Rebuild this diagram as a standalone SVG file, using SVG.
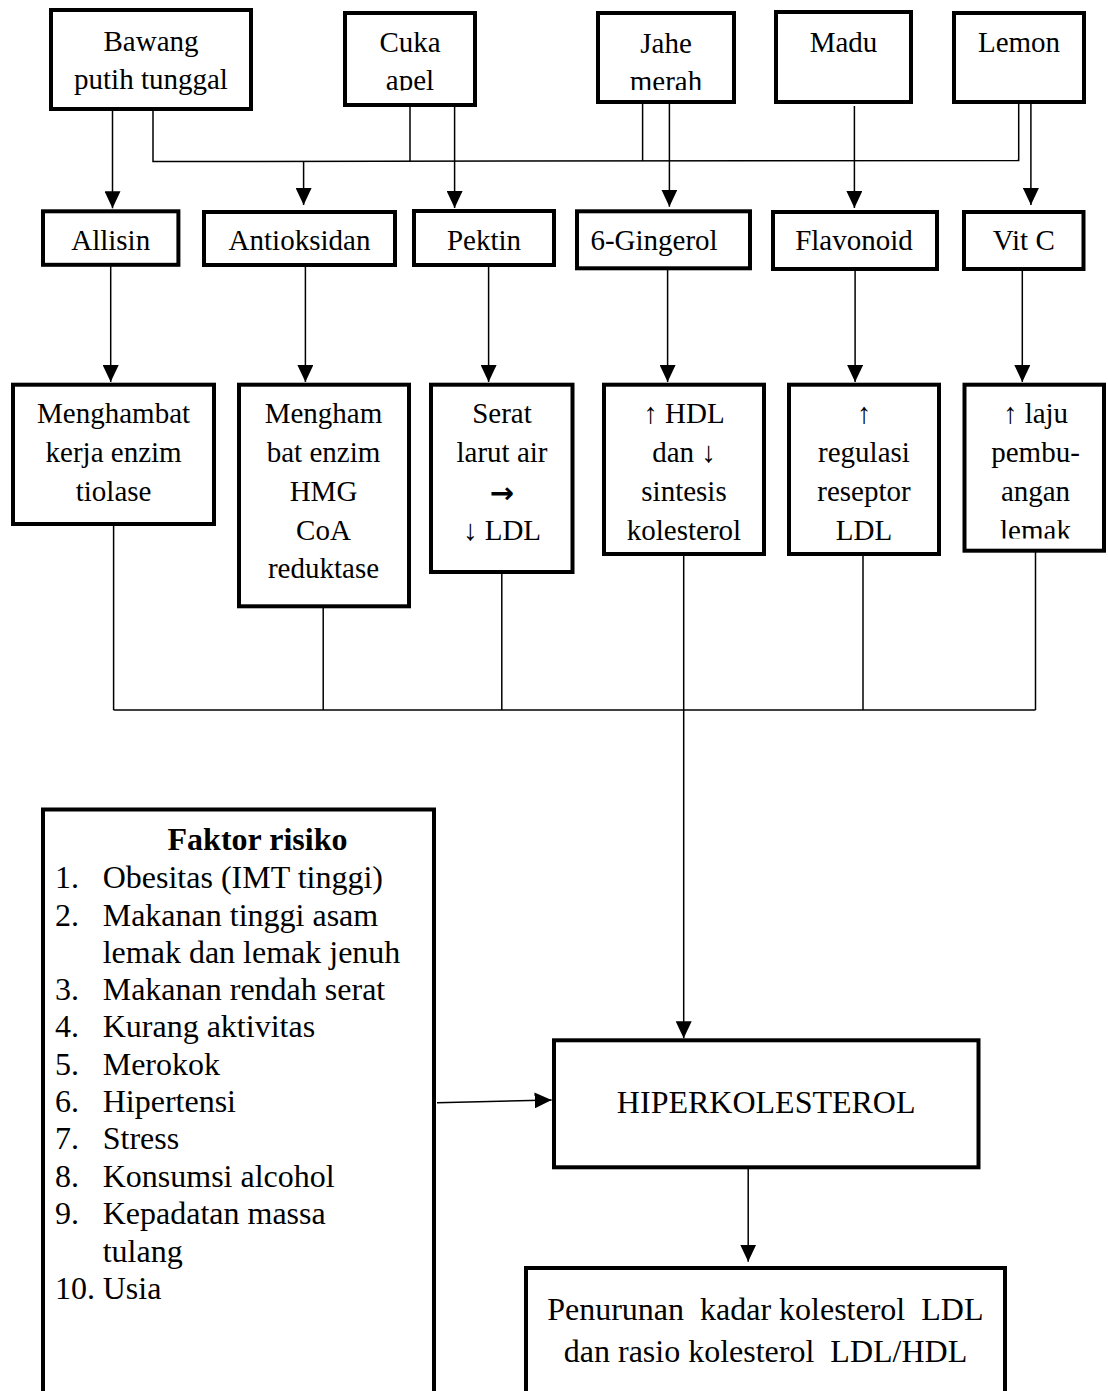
<svg xmlns="http://www.w3.org/2000/svg" width="1108" height="1391" viewBox="0 0 1108 1391">
<style>
.box{fill:#fff;stroke:#000;stroke-width:4}
.t{font-family:"Liberation Serif","Times New Roman",serif;font-size:29px;fill:#000;text-anchor:middle}
.b{font-size:32px}
.l{font-family:"Liberation Serif","Times New Roman",serif;font-size:32px;fill:#000}
.c{fill:none;stroke:#000;stroke-width:1.5}
.a{marker-end:url(#arr)}
.sym{font-family:"DejaVu Sans",sans-serif;font-size:29px;font-weight:bold}
</style>
<defs>
<marker id="arr" markerUnits="userSpaceOnUse" viewBox="0 0 17 16" refX="17" refY="8" markerWidth="17" markerHeight="16" orient="auto">
<path d="M0,0 L17,8 L0,16 z" fill="#000"/>
</marker>
<clipPath id="clipApel"><rect x="345" y="13" width="130" height="77.5"/></clipPath>
<clipPath id="clipMerah"><rect x="598" y="13" width="136" height="77"/></clipPath>
<clipPath id="clipLemak"><rect x="964" y="385" width="140" height="153.5"/></clipPath>
</defs>
<rect width="1108" height="1391" fill="#fff"/>

<g id="connectors">
<line class="c a" x1="112.5" y1="110" x2="112.5" y2="208.3"/>
<polyline class="c" points="153,110 153,161.5 1018.7,160.5 1018.7,103"/>
<line class="c a" x1="303.6" y1="161" x2="303.6" y2="205"/>
<line class="c" x1="410" y1="106" x2="410" y2="161"/>
<line class="c a" x1="454.6" y1="106" x2="454.6" y2="208"/>
<line class="c" x1="642.6" y1="103" x2="642.6" y2="161"/>
<line class="c a" x1="669.4" y1="103" x2="669.4" y2="206.7"/>
<line class="c a" x1="854.4" y1="106" x2="854.4" y2="208"/>
<line class="c a" x1="1030.9" y1="103" x2="1030.9" y2="205"/>

<line class="c a" x1="110.7" y1="266" x2="110.7" y2="382"/>
<line class="c a" x1="305.4" y1="266" x2="305.4" y2="382"/>
<line class="c a" x1="488.6" y1="266" x2="488.6" y2="382"/>
<line class="c a" x1="667.6" y1="269" x2="667.6" y2="382"/>
<line class="c a" x1="855.1" y1="270" x2="855.1" y2="382"/>
<line class="c a" x1="1022.3" y1="270" x2="1022.3" y2="382"/>

<line class="c" x1="113.6" y1="525" x2="113.6" y2="710"/>
<line class="c" x1="323.2" y1="607" x2="323.2" y2="710"/>
<line class="c" x1="501.8" y1="573" x2="501.8" y2="710"/>
<line class="c" x1="863" y1="555" x2="863" y2="710"/>
<line class="c" x1="1035.5" y1="552" x2="1035.5" y2="710"/>
<line class="c" x1="113.6" y1="710" x2="1035.5" y2="710"/>
<line class="c a" x1="683.7" y1="555" x2="683.7" y2="1038.3"/>

<line class="c a" x1="748.2" y1="1168" x2="748.2" y2="1261.7"/>
<line class="c a" x1="437" y1="1102.7" x2="551.6" y2="1100"/>
</g>

<g id="bawang"><rect class="box" x="51" y="10" width="200" height="99"/>
<text class="t" x="151" y="50.7">Bawang</text><text class="t" x="151" y="89.3">putih tunggal</text></g>
<g id="cuka"><rect class="box" x="345" y="13" width="130" height="92"/>
<text class="t" x="410" y="51.7">Cuka</text><text class="t" x="410" y="90" clip-path="url(#clipApel)">apel</text></g>
<g id="jahe"><rect class="box" x="598" y="13" width="136" height="89"/>
<text class="t" x="666" y="53.3">Jahe</text><text class="t" x="666" y="91" clip-path="url(#clipMerah)">merah</text></g>
<g id="madu"><rect class="box" x="776" y="12" width="135" height="90"/>
<text class="t" x="843.5" y="51.7">Madu</text></g>
<g id="lemon"><rect class="box" x="954" y="13" width="130" height="89"/>
<text class="t" x="1019" y="51.7">Lemon</text></g>

<g id="allisin"><rect class="box" x="43" y="211.3" width="135.4" height="53.5"/>
<text class="t" x="110.7" y="250">Allisin</text></g>
<g id="antioksidan"><rect class="box" x="204" y="212" width="191" height="53"/>
<text class="t" x="299.5" y="250">Antioksidan</text></g>
<g id="pektin"><rect class="box" x="414" y="211" width="140" height="54"/>
<text class="t" x="484" y="250">Pektin</text></g>
<g id="gingerol"><rect class="box" x="577" y="211.3" width="173" height="57"/>
<text class="t" x="654" y="250">6-Gingerol</text></g>
<g id="flavonoid"><rect class="box" x="773" y="212" width="164" height="57"/>
<text class="t" x="854" y="250">Flavonoid</text></g>
<g id="vitc"><rect class="box" x="964" y="212" width="119.5" height="57"/>
<text class="t" x="1023.8" y="250">Vit C</text></g>

<g id="tiolase"><rect class="box" x="13" y="384.7" width="201" height="139.3"/>
<text class="t" x="113.6" y="423.3">Menghambat</text><text class="t" x="113.6" y="462">kerja enzim</text><text class="t" x="113.6" y="500.8">tiolase</text></g>
<g id="hmgcoa"><rect class="box" x="239" y="384.7" width="170" height="221.6"/>
<text class="t" x="323.5" y="423.3">Mengham</text><text class="t" x="323.5" y="462">bat enzim</text><text class="t" x="323.5" y="500.8">HMG</text><text class="t" x="323.5" y="539.5">CoA</text><text class="t" x="323.5" y="578.3">reduktase</text></g>
<g id="serat"><rect class="box" x="431" y="384.7" width="141.5" height="187.3"/>
<text class="t" x="502" y="423.3">Serat</text><text class="t" x="502" y="462">larut air</text><text class="t sym" x="502" y="503">→</text><text class="t" x="502" y="539.5">↓ LDL</text></g>
<g id="hdl"><rect class="box" x="604" y="384.7" width="160" height="169.3"/>
<text class="t" x="684" y="423.3">↑ HDL</text><text class="t" x="684" y="462">dan ↓</text><text class="t" x="684" y="500.8">sintesis</text><text class="t" x="684" y="539.5">kolesterol</text></g>
<g id="reseptor"><rect class="box" x="789" y="384.7" width="150" height="169.3"/>
<text class="t" x="864" y="423.3">↑</text><text class="t" x="864" y="462">regulasi</text><text class="t" x="864" y="500.8">reseptor</text><text class="t" x="864" y="539.5">LDL</text></g>
<g id="lemak"><rect class="box" x="964.5" y="384.7" width="139.5" height="166"/>
<text class="t" x="1035.5" y="423.3">↑ laju</text><text class="t" x="1035.5" y="462">pembu-</text><text class="t" x="1035.5" y="500.8">angan</text><text class="t" x="1035.5" y="540" clip-path="url(#clipLemak)">lemak</text></g>

<g id="faktor"><rect class="box" x="43" y="809.5" width="391" height="620"/>
<text class="t b" x="257.5" y="850" font-weight="bold">Faktor risiko</text>
<text class="l" x="55" y="888.3">1.</text><text class="l" x="102.7" y="888.3">Obesitas (IMT tinggi)</text>
<text class="l" x="55" y="926">2.</text><text class="l" x="102.7" y="926">Makanan tinggi asam</text>
<text class="l" x="102.7" y="962.7">lemak dan lemak jenuh</text>
<text class="l" x="55" y="1000">3.</text><text class="l" x="102.7" y="1000">Makanan rendah serat</text>
<text class="l" x="55" y="1037.3">4.</text><text class="l" x="102.7" y="1037.3">Kurang aktivitas</text>
<text class="l" x="55" y="1075">5.</text><text class="l" x="102.7" y="1075">Merokok</text>
<text class="l" x="55" y="1111.7">6.</text><text class="l" x="102.7" y="1111.7">Hipertensi</text>
<text class="l" x="55" y="1149.3">7.</text><text class="l" x="102.7" y="1149.3">Stress</text>
<text class="l" x="55" y="1186.7">8.</text><text class="l" x="102.7" y="1186.7">Konsumsi alcohol</text>
<text class="l" x="55" y="1224">9.</text><text class="l" x="102.7" y="1224">Kepadatan massa</text>
<text class="l" x="102.7" y="1261.7">tulang</text>
<text class="l" x="55" y="1299">10.</text><text class="l" x="102.7" y="1299">Usia</text>
</g>

<g id="hiperkolesterol"><rect class="box" x="554" y="1040.3" width="424.5" height="127"/>
<text class="t b" x="766.2" y="1113.3">HIPERKOLESTEROL</text></g>

<g id="penurunan"><rect class="box" x="526" y="1268" width="479" height="160"/>
<text class="t b" x="765.3" y="1320" xml:space="preserve">Penurunan  kadar kolesterol  LDL</text>
<text class="t b" x="765.5" y="1361.7" xml:space="preserve">dan rasio kolesterol  LDL/HDL</text></g>
</svg>
